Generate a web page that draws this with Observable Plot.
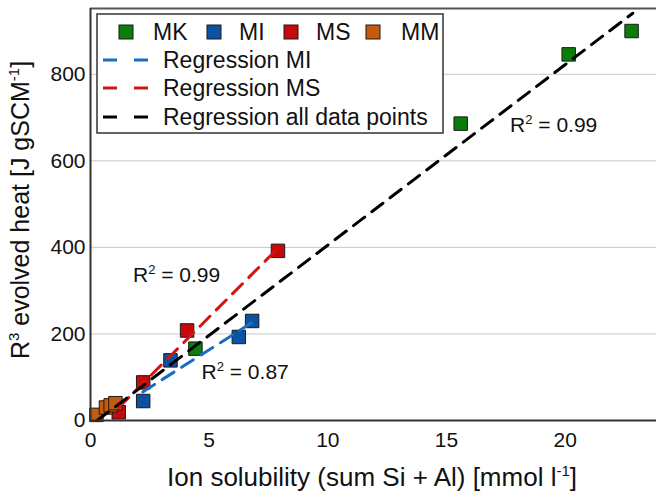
<!DOCTYPE html>
<html>
<head>
<meta charset="utf-8">
<script src="https://cdn.jsdelivr.net/npm/d3@7"></script>
<script src="https://cdn.jsdelivr.net/npm/@observablehq/plot@0.6"></script>
<style>
  html, body { margin: 0; padding: 0; background: #fff; }
  #wrap { position: relative; width: 656px; height: 492px; font-family: "Liberation Sans", Arial, sans-serif; }
  #legend { position: absolute; left: 0; top: 0; }
</style>
</head>
<body>
<div id="wrap"></div>
<script>
// ---- data ----
const seriesNames = ["MK", "MI", "MS", "MM"];
const seriesColors = ["#0b7d0b", "#0b52a3", "#c60a0a", "#c55a0c"];
const mkX = [4.42, 15.6, 20.15, 22.8];
const mkY = [166, 686, 846, 900];
const miX = [2.22, 3.37, 6.25, 6.81];
const miY = [45, 139, 193, 230];
const msX = [1.19, 2.22, 4.07, 7.9];
const msY = [19, 88, 208, 392];
const mmX = [0.25, 0.65, 0.85, 1.05];
const mmY = [13, 30, 35, 40];

// regression line end points
const regNames = ["Regression MI", "Regression MS", "Regression all data points"];
const regColors = ["#1c6cc4", "#d01515", "#000000"];
const regMIx = [2.2, 6.8],  regMIy = [66, 226];
const regMSx = [1.19, 7.9], regMSy = [30, 398];
const regAllx = [0.28, 22.85], regAlly = [0, 941];

// R² annotations (value part after the superscript)
const r2Value = ["0.99", "0.99", "0.87"];
const r2X = [17.7, 1.81, 4.7];
const r2Y = [682, 335, 112];

const xTicks = [0, 5, 10, 15, 20];
const yTicks = [0, 200, 400, 600, 800];
const gridTicks = [200, 400, 600, 800];
const xMax = 23.85, yMax = 952;

// ---- build tables ----
const allX = [mkX, miX, msX, mmX], allY = [mkY, miY, msY, mmY];
const points = [];
seriesNames.forEach((s, i) => allX[i].forEach((x, j) => points.push({series: s, x, y: allY[i][j]})));
const regX = [regMIx, regMSx, regAllx], regY = [regMIy, regMSy, regAlly];
const lines = [];
regNames.forEach((n, i) => regX[i].forEach((x, j) => lines.push({name: n, x, y: regY[i][j]})));
const r2 = r2Value.map((v, i) => ({v, x: r2X[i], y: r2Y[i]}));

const colorOf = Object.fromEntries(seriesNames.map((s, i) => [s, seriesColors[i]]));
const regColorOf = Object.fromEntries(regNames.map((s, i) => [s, regColors[i]]));

const plot = Plot.plot({
  width: 656,
  height: 492,
  marginLeft: 90,
  marginRight: 0,
  marginTop: 8,
  marginBottom: 72,
  style: {fontFamily: "'Liberation Sans', Arial, sans-serif", fontSize: "21px", color: "#111", background: "#fff", overflow: "visible"},
  x: {domain: [0, xMax]},
  y: {domain: [0, yMax]},
  marks: [
    Plot.gridY(gridTicks, {stroke: "#c8c8c8", strokeOpacity: 1, strokeWidth: 1}),
    Plot.dot(points, {x: "x", y: "y", symbol: "square", r: 7.6, fill: d => colorOf[d.series], stroke: "#1a1a1a", strokeWidth: 1, fillOpacity: 1}),
    Plot.line(lines, {x: "x", y: "y", z: "name", stroke: d => regColorOf[d.name], strokeWidth: 3, strokeDasharray: "14,9"}),
    Plot.ruleY([yMax], {stroke: "#555", strokeWidth: 2}),
    Plot.ruleY([0], {stroke: "#333", strokeWidth: 2}),
    Plot.ruleX([0], {stroke: "#333", strokeWidth: 2}),
    Plot.axisX(xTicks, {tickSize: 0, tickPadding: 12, fontSize: 21, label: null}),
    Plot.axisY(yTicks, {tickSize: 0, tickPadding: 5, fontSize: 21, label: null})
  ]
});

const svg = d3.select(plot);
const sx = plot.scale("x"), sy = plot.scale("y");

// R² annotations with a real superscript, positioned through the plot's scales
r2.forEach(d => {
  const t = svg.append("text").attr("x", sx.apply(d.x)).attr("y", sy.apply(d.y)).attr("dy", "0.35em")
    .attr("text-anchor", "start").attr("font-size", 21).attr("fill", "#111");
  t.append("tspan").text("R");
  t.append("tspan").attr("font-size", 13).attr("dy", -8).text("2");
  t.append("tspan").attr("dy", 8).text(" = " + d.v);
});

// axis labels with superscripts
const xl = svg.append("text").attr("x", 372).attr("y", 486).attr("text-anchor", "middle")
  .attr("font-size", 26).attr("fill", "#111");
xl.append("tspan").text("Ion solubility (sum Si + Al) [mmol l");
xl.append("tspan").attr("font-size", 15).attr("dy", -10).text("-1");
xl.append("tspan").attr("dy", 10).text("]");

const yl = svg.append("text").attr("transform", "translate(29,210) rotate(-90)").attr("text-anchor", "middle")
  .attr("font-size", 25).attr("fill", "#111");
yl.append("tspan").text("R");
yl.append("tspan").attr("font-size", 15).attr("dy", -10).text("3");
yl.append("tspan").attr("dy", 10).text(" evolved heat [J gSCM");
yl.append("tspan").attr("font-size", 15).attr("dy", -10).text("-1");
yl.append("tspan").attr("dy", 10).text("]");

document.getElementById("wrap").appendChild(plot);

// ---- legend overlay (inside the plot frame) ----
const lg = d3.select("#wrap").append("svg").attr("id", "legend").attr("width", 656).attr("height", 492)
  .style("font-family", "'Liberation Sans', Arial, sans-serif");
lg.append("rect").attr("x", 97).attr("y", 14).attr("width", 346).attr("height", 119)
  .attr("fill", "#fff").attr("stroke", "#333").attr("stroke-width", 1.5);
const sqX = [126, 214, 291, 373], labX = [153, 239, 316, 401];
seriesNames.forEach((s, i) => {
  lg.append("rect").attr("x", sqX[i] - 7).attr("y", 32 - 7).attr("width", 14).attr("height", 14)
    .attr("fill", seriesColors[i]).attr("stroke", "#1a1a1a").attr("stroke-width", 1);
  lg.append("text").attr("x", labX[i]).attr("y", 32).attr("dy", "0.36em").attr("font-size", 23).attr("fill", "#111").text(s);
});
const rowY = [60, 88, 117];
regNames.forEach((n, i) => {
  lg.append("line").attr("x1", 103).attr("x2", 149).attr("y1", rowY[i]).attr("y2", rowY[i])
    .attr("stroke", regColors[i]).attr("stroke-width", 3).attr("stroke-dasharray", "14,17");
  lg.append("text").attr("x", 163).attr("y", rowY[i]).attr("dy", "0.36em").attr("font-size", 23).attr("fill", "#111").text(n);
});
</script>
</body>
</html>
